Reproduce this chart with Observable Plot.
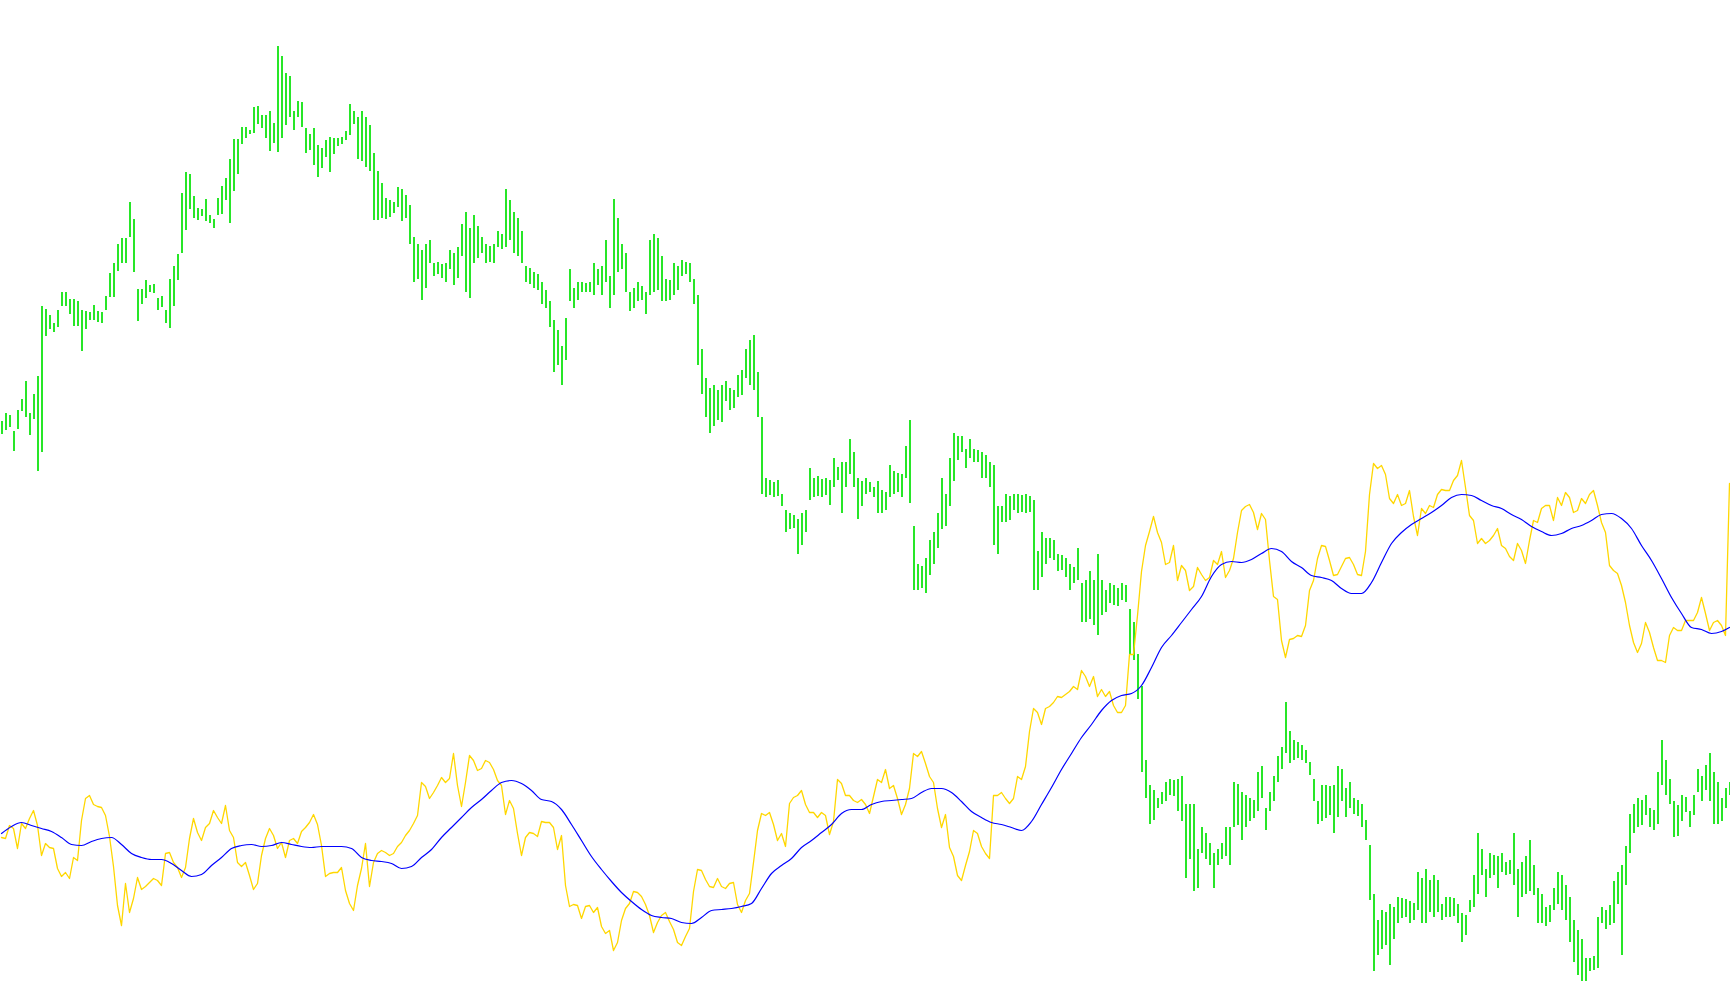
<!DOCTYPE html>
<html><head><meta charset="utf-8">
<script src="https://cdn.jsdelivr.net/npm/d3@7"></script>
<script src="https://cdn.jsdelivr.net/npm/@observablehq/plot@0.6"></script>
<style>html,body{margin:0;padding:0;background:#fff;overflow:hidden}</style>
</head><body><div id="chart"></div>
<script>
// Level readings (depth units, 0 = top of the price window, 1005 = bottom)
const barHigh = [
421,413,415,431,410,399,381,413,394,376,
306,309,315,323,310,292,292,299,299,301,
310,311,312,305,311,312,296,273,263,244,
238,238,202,219,289,289,280,285,284,298,
296,310,279,266,254,193,172,174,196,208,
209,199,215,219,198,186,178,159,139,139,
127,127,130,107,106,115,115,111,123,46,
56,73,76,111,101,102,128,134,128,145,
148,140,137,138,138,137,131,104,111,117,
111,117,125,153,171,183,198,200,202,187,
189,195,205,237,244,250,244,240,263,262,
264,263,250,253,247,224,212,228,215,226,
237,244,246,244,231,234,189,200,212,218,
231,266,268,272,274,282,290,301,320,330,
346,318,269,288,282,282,283,282,263,269,
266,240,276,199,218,244,253,292,288,282,
286,292,240,234,238,256,279,280,263,266,
260,262,263,279,295,349,378,388,385,390,
385,381,388,390,375,370,349,340,335,372,
417,478,480,482,480,494,510,513,515,519,
513,510,468,478,476,479,478,480,458,467,
462,462,439,452,478,481,478,482,487,481,
490,492,465,471,473,474,446,420,526,564,
566,558,540,532,513,478,494,458,433,436,
436,449,439,449,450,452,455,462,465,506,
506,494,496,494,494,495,494,496,500,551,
532,538,538,540,554,555,558,564,567,548,
583,580,571,580,554,580,590,583,585,588,
583,585,609,622,654,686,760,785,790,798,
792,782,779,780,779,776,804,804,804,849,
827,833,843,853,849,843,827,827,782,784,
792,795,798,800,772,766,808,792,776,756,
747,702,731,740,742,745,750,762,779,801,
785,785,786,785,766,769,788,782,798,800,
804,820,845,894,920,910,912,904,907,897,
898,899,901,903,872,878,869,880,875,880,
904,897,897,898,904,913,915,900,875,833,
849,869,853,855,856,853,862,860,833,869,
862,856,840,865,888,894,907,905,888,872,
875,885,897,920,930,939,958,958,956,917,
907,910,905,881,872,865,846,814,804,798,
800,795,808,810,772,740,760,779,801,805,
795,797,811,795,769,776,765,753,772,782,
798,788,782];
const barLow = [
434,430,427,451,429,411,417,435,419,471,
452,336,329,332,327,306,306,314,326,326,
351,329,320,320,322,323,310,297,297,271,
263,263,237,272,321,304,298,292,293,310,
307,323,328,306,280,253,230,209,218,220,
216,221,223,228,215,214,200,223,191,174,
144,138,134,133,124,128,138,151,143,152,
138,125,117,130,117,127,153,150,165,177,
168,157,172,154,146,144,140,135,124,159,
161,167,171,220,220,218,219,217,213,207,
221,218,244,282,279,300,288,263,276,274,
278,282,269,285,278,256,292,298,263,258,
253,263,262,263,247,249,247,240,253,256,
263,282,284,288,290,304,308,327,372,365,
385,360,301,308,300,292,292,292,295,285,
295,282,308,295,272,269,292,311,308,301,
300,314,295,292,290,301,301,300,295,290,
276,274,282,304,365,394,417,433,426,420,
422,401,410,408,397,395,378,385,390,417,
494,497,495,497,496,506,532,529,528,554,
545,532,500,497,496,497,495,505,487,480,
513,487,474,487,519,506,494,492,497,513,
513,510,497,494,492,497,478,503,590,590,
588,593,575,564,548,529,526,506,481,460,
452,468,458,462,462,478,478,487,545,554,
522,522,520,510,513,512,513,512,590,590,
577,564,558,560,571,570,577,590,583,580,
622,622,619,625,635,615,612,603,605,606,
600,602,654,660,699,772,798,824,820,808,
804,801,795,796,811,821,878,859,891,888,
853,859,865,888,865,859,856,865,827,825,
840,827,821,818,811,798,830,811,801,782,
769,753,763,760,758,760,763,775,801,824,
821,818,815,833,817,801,817,808,814,816,
827,840,900,971,955,949,945,965,939,923,
918,917,923,920,910,923,923,912,917,912,
920,917,917,916,923,942,935,912,907,894,
875,897,878,875,888,872,875,874,885,917,
897,894,891,895,923,923,926,922,910,904,
910,920,942,962,975,981,981,971,970,968,
923,929,925,923,904,955,885,853,833,827,
825,815,827,830,824,785,795,804,837,836,
821,812,827,815,792,801,790,801,824,824,
821,808,795];
const signal = [
837,838,825,828,848,823,828,818,810,825,
855,843,847,848,868,876,872,878,857,860,
820,798,795,804,806,807,815,836,866,905,
925,883,912,898,877,889,886,882,878,880,
885,853,852,862,867,877,867,838,818,832,
840,827,823,810,817,823,805,830,837,862,
866,862,875,889,883,855,838,828,835,848,
842,857,840,838,843,831,827,822,814,824,
845,876,873,872,872,867,890,903,910,885,
868,843,886,862,853,850,852,855,853,846,
842,835,830,823,815,782,786,798,792,785,
777,782,778,753,785,806,782,755,760,770,
768,760,762,769,780,785,814,800,808,833,
855,837,832,833,836,821,822,822,827,849,
835,885,906,904,905,918,906,905,912,907,
926,933,930,950,942,920,908,903,891,892,
896,904,915,932,922,915,912,921,929,942,
945,936,928,891,869,870,879,886,887,878,
886,888,883,882,904,912,900,893,862,830,
813,815,812,824,840,833,846,803,797,795,
790,804,812,812,817,812,815,834,821,779,
783,795,795,800,802,799,804,813,796,779,
782,769,788,785,798,814,804,788,753,756,
751,763,776,782,808,827,814,847,856,875,
880,865,851,830,833,846,853,858,795,795,
792,798,803,798,776,779,766,731,708,712,
724,708,706,702,696,697,694,691,686,689,
670,676,686,676,696,689,696,691,705,712,
712,705,654,654,615,571,545,531,516,532,
542,564,562,545,580,565,570,590,586,567,
574,580,577,560,564,551,577,570,558,532,
510,506,504,512,529,513,519,560,596,599,
640,657,639,638,635,636,625,590,580,558,
545,546,560,575,574,566,558,557,564,574,
575,551,494,463,468,465,474,498,503,494,
505,503,490,516,535,508,513,505,507,494,
489,490,490,480,475,460,487,515,520,543,
538,543,540,535,528,545,548,556,560,543,
550,563,540,520,522,508,505,505,520,497,
505,492,497,512,510,498,503,494,490,505,
522,532,565,570,573,585,602,625,642,652,
643,622,632,647,660,660,662,635,627,630,
630,620,620,620,612,597,613,630,622,620,
625,635,483];
// Moving average, one reading every 2.5 bars, plus the last bar
const maValues = [
833,826,822,825,828,831,837,844,845,841,
838,837,844,853,857,859,859,863,870,876,
874,865,857,848,845,844,846,845,842,844,
846,847,846,846,846,848,857,860,861,863,
868,866,857,849,837,827,817,807,799,790,
782,780,783,790,799,801,809,824,840,856,
869,881,892,901,909,915,917,918,922,923,
917,910,909,908,906,903,888,873,865,858,
847,840,832,824,813,809,809,804,801,800,
799,798,792,788,788,792,801,811,817,822,
824,827,830,821,804,787,769,753,737,724,
710,700,695,693,685,667,647,635,622,609,
596,576,564,561,562,559,553,548,551,561,
567,575,577,580,588,593,593,582,562,543,
532,524,518,512,505,497,494,495,500,505,
508,514,519,526,531,535,533,528,525,520,
514,513,518,528,545,560,578,597,613,627,
629,633,631,627];

const bars = barHigh.map((h, i) => ({t: i, high: h, low: barLow[i], sig: signal[i]}));
const ma = maValues.map((v, i) => ({t: i < maValues.length - 1 ? i * 2.5 : barHigh.length - 1, v}));

const chart = Plot.plot({
  width: 1730,
  height: 1005,
  margin: 0,
  style: {background: "#ffffff"},
  x: {domain: [-0.25, barHigh.length - 0.75], axis: null},
  y: {domain: [1005, 0], axis: null},
  marks: [
    Plot.ruleX(bars, {x: "t", y1: "high", y2: "low", stroke: "#28e628", strokeWidth: 2, shapeRendering: "crispEdges"}),
    Plot.line(bars, {x: "t", y: "sig", stroke: "#ffd700", strokeWidth: 1.3}),
    Plot.line(ma, {x: "t", y: "v", stroke: "#0000ff", strokeWidth: 1.2, curve: "monotone-x"})
  ]
});
document.getElementById("chart").appendChild(chart);
</script>
</body></html>
